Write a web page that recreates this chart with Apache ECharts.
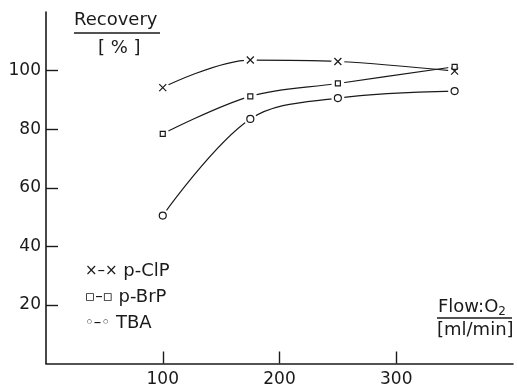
<!DOCTYPE html>
<html>
<head>
<meta charset="utf-8">
<script src="https://cdn.jsdelivr.net/npm/echarts@6/dist/echarts.min.js"></script>
<style>
  html, body { margin: 0; padding: 0; background: #fff; }
  #chart { width: 517px; height: 391px; }
</style>
</head>
<body>
<div id="chart"></div>
<script>
// values
var flow = [100, 175, 250, 350];
var pClP = [94.2, 103.6, 103.1, 99.8];
var pBrP = [78.4, 91.2, 95.6, 101.3];
var tba = [50.5, 83.5, 90.6, 93.0];
var seriesNames = ['p-ClP', 'p-BrP', 'TBA'];
var legendMarks = ['×–×', '▫–▫', '◦–◦'];
var xTicks = [100, 200, 300];
var yTicks = [20, 40, 60, 80, 100];

var ink = '#1a1a1a';
var font = 'DejaVu Sans';
var crossPath = 'path://M0,0L10,10M10,0L0,10';

function pts(ys) {
  return flow.map(function (x, i) { return [x, ys[i]]; });
}

var curves = [pClP, pBrP, tba];
var symbols = [crossPath, 'rect', 'circle'];
var symSizes = [7, 5, 7];

var series = [];
curves.forEach(function (ys, i) {
  // smooth curve; its own white symbols leave a gap round each marker
  series.push({
    name: seriesNames[i], type: 'line', data: pts(ys), smooth: 0.35,
    symbol: 'circle', symbolSize: 13, showSymbol: true, showAllSymbol: true, z: 2,
    lineStyle: { color: ink, width: 1.2 },
    itemStyle: { color: '#ffffff', borderWidth: 0, opacity: 1 },
    emphasis: { disabled: true }
  });
});
curves.forEach(function (ys, i) {
  series.push({
    type: 'scatter', data: pts(ys), symbol: symbols[i], symbolSize: symSizes[i], z: 4,
    itemStyle: { color: '#fff', borderColor: ink, borderWidth: 1.2, opacity: 1 }
  });
});

var chart = echarts.init(document.getElementById('chart'));
chart.setOption({
  animation: false,
  backgroundColor: '#fff',
  grid: { left: 46, right: 4, top: 12, bottom: 27.5 },
  xAxis: {
    type: 'value', min: 0, max: 400, interval: 100,
    splitLine: { show: false },
    axisLine: { lineStyle: { color: ink, width: 1.6 } },
    axisTick: { inside: true, length: 12, customValues: xTicks, lineStyle: { color: ink, width: 1.4 } },
    axisLabel: { customValues: xTicks, margin: 8, color: ink, fontFamily: font, fontSize: 17 }
  },
  yAxis: {
    type: 'value', min: 0, max: 120, interval: 20,
    splitLine: { show: false },
    axisLine: { show: true, lineStyle: { color: ink, width: 1.6 } },
    axisTick: { show: true, inside: true, length: 12, customValues: yTicks, lineStyle: { color: ink, width: 1.4 } },
    axisLabel: { customValues: yTicks, margin: 5, color: ink, fontFamily: font, fontSize: 17 }
  },
  legend: {
    data: seriesNames, orient: 'vertical', left: 74, top: 257, itemGap: 8,
    itemWidth: 0, itemHeight: 0,
    itemStyle: { opacity: 0 }, lineStyle: { opacity: 0 },
    formatter: function (name) {
      return '{m|' + legendMarks[seriesNames.indexOf(name)] + '} ' + name;
    },
    textStyle: {
      color: ink, fontFamily: font, fontSize: 18,
      rich: { m: { fontFamily: 'DejaVu Sans', fontSize: 15, color: ink } }
    }
  },
  graphic: [
    { type: 'text', left: 74, top: 11, style: { text: 'Recovery', fill: ink, font: '18px "DejaVu Sans"' } },
    { type: 'line', shape: { x1: 74, y1: 33, x2: 160, y2: 33 }, style: { stroke: ink, lineWidth: 1.4 } },
    { type: 'text', left: 98, top: 39, style: { text: '[ % ]', fill: ink, font: '18px "DejaVu Sans"' } },
    { type: 'text', left: 438, top: 298, style: {
      text: 'Flow:O{s|2}', fill: ink, font: '18px "DejaVu Sans"',
      rich: { s: { fontSize: 12, fontFamily: 'DejaVu Sans', padding: [9, 0, 0, 0], fill: ink } }
    } },
    { type: 'line', shape: { x1: 437, y1: 318, x2: 512, y2: 318 }, style: { stroke: ink, lineWidth: 1.4 } },
    { type: 'text', left: 437, top: 321, style: { text: '[ml/min]', fill: ink, font: '18px "DejaVu Sans"' } }
  ],
  series: series
});
</script>
</body>
</html>
